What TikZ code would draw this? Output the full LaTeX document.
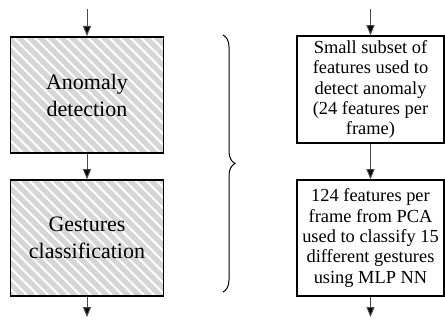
\documentclass[tikz,border=0pt]{standalone}
\usepackage{fontspec}
\setmainfont{Liberation Serif}
\usepackage{tikz}
\usetikzlibrary{arrows.meta,positioning,patterns.meta,decorations.pathreplacing}
\definecolor{hatchbg}{HTML}{D6D6D6}
\definecolor{ink}{HTML}{000000}
\definecolor{wire}{HTML}{4A4A4A}
\tikzset{
  stage/.style={draw=ink,line width=1.6pt,minimum width=153pt,minimum height=116pt,
                preaction={fill=hatchbg},
                pattern={Lines[angle=-45,distance=7.5pt,line width=2pt]},
                pattern color=white,
                font=\fontsize{22}{27}\selectfont,align=center,inner sep=0pt},
  note/.style={draw=ink,line width=1.6pt,fill=white,minimum width=147pt,
               align=center,inner sep=0pt,
               font=\fontsize{18.4}{20.3}\selectfont},
  flow/.style={-{Triangle[length=10pt,width=8pt,fill=ink]},line width=1pt,wire},
}
\begin{document}
\begin{tikzpicture}[x=1pt,y=-1pt]
  \useasboundingbox (0,0) rectangle (445,321);
  % left column
  \node[stage](anomaly)at(87,95){Anomaly\\detection};
  \node[stage](gesture)at(87,238){Gestures\\classification};
  \coordinate(lin)at(87,9);
  \coordinate(lout)at(87,317);
  \draw[flow](lin)--(anomaly.north);
  \draw[flow](anomaly.south)--(gesture.north);
  \draw[flow](gesture.south)--(lout);
  % brace
  \coordinate(btop)at(223,35);
  \coordinate(bbot)at(223,292);
  \draw[line width=1pt,decorate,decoration={brace,amplitude=12pt}](btop)--(bbot);
  % right column
  \node[note,minimum height=107pt](subset)at(370.5,89.5)
    {Small subset of\\features used to\\detect anomaly\\(24 features per\\frame)};
  \node[note,minimum height=116pt](pca)at(370.5,238)
    {124 features per\\frame from PCA\\used to classify 15\\different gestures\\using MLP NN};
  \coordinate(rin)at(370.5,9);
  \coordinate(rout)at(370.5,317);
  \draw[flow](rin)--(subset.north);
  \draw[flow](subset.south)--(pca.north);
  \draw[flow](pca.south)--(rout);
\end{tikzpicture}
\end{document}
